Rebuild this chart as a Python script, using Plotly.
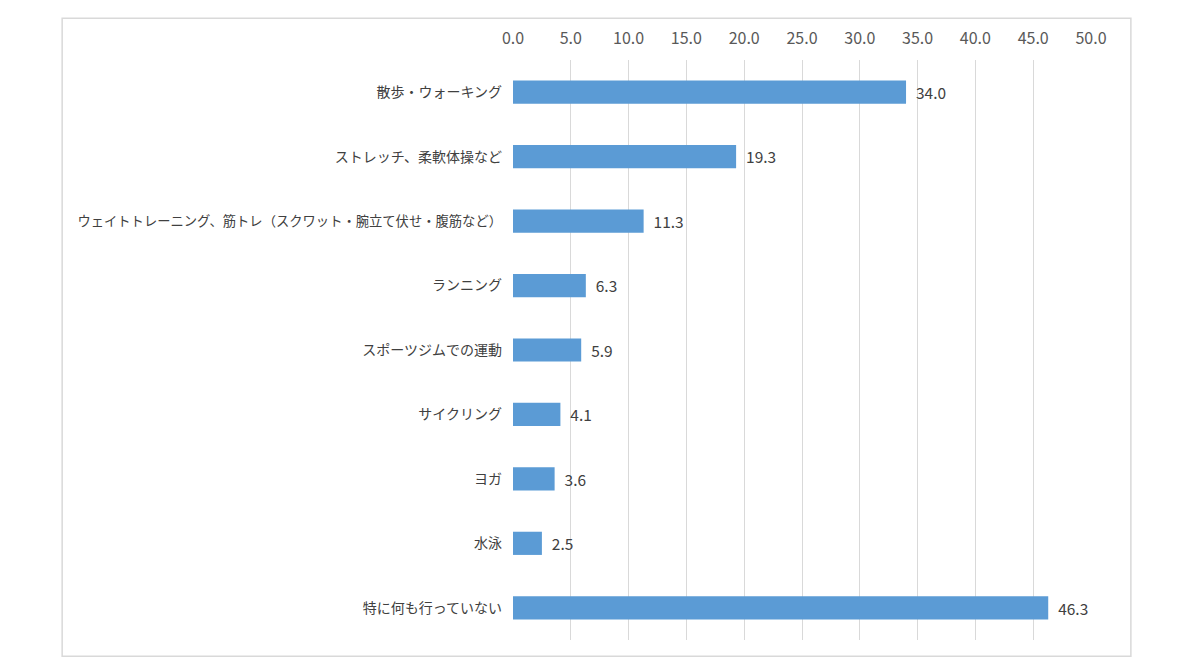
import plotly.graph_objects as go

# -------------------- Data --------------------
categories = [
    "散歩・ウォーキング",
    "ストレッチ、柔軟体操など",
    "ウェイトトレーニング、筋トレ（スクワット・腕立て伏せ・腹筋など）",
    "ランニング",
    "スポーツジムでの運動",
    "サイクリング",
    "ヨガ",
    "水泳",
    "特に何も行っていない",
]
values = [34.0, 19.3, 11.3, 6.3, 5.9, 4.1, 3.6, 2.5, 46.3]
tick_vals = [0, 5, 10, 15, 20, 25, 30, 35, 40, 45, 50]

FONT = "Noto Sans CJK JP, Meiryo, sans-serif"

# the long label is squeezed a bit so it stays inside the frame
cat_text = [c if len(c) < 20 else f"<span style='font-size:13.3px'>{c}</span>" for c in categories]

fig = go.Figure(go.Bar(
    x=values, y=categories, orientation="h",
    marker=dict(color="#5b9bd5", line=dict(width=0)),
    text=["\u00a0\u00a0" + f"{v:.1f}" for v in values],
    textposition="outside",
    textfont=dict(size=16, color="#404040", family=FONT),
    cliponaxis=False,
))

# page body adds an 8px margin, so the figure is 8px smaller than the window
fig.update_layout(
    width=1192, height=664,
    paper_bgcolor="white", plot_bgcolor="white",
    margin=dict(l=505, r=109, t=52, b=32),
    bargap=0.64,
    showlegend=False,
    font=dict(family=FONT, color="#595959"),
    xaxis=dict(
        side="top", range=[0, 50], tickvals=tick_vals,
        ticktext=[f"{v:.1f}" for v in tick_vals],
        tickfont=dict(size=16, color="#595959"),
        showgrid=True, gridcolor="#d9d9d9", gridwidth=1,
        zeroline=False, showline=False, ticks="", ticklabelstandoff=12,
    ),
    yaxis=dict(
        autorange="reversed",
        tickvals=categories, ticktext=cat_text,
        tickfont=dict(size=14, color="#404040"),
        showgrid=False, zeroline=False, showline=False,
        ticks="", ticklabelstandoff=10,
    ),
    shapes=[dict(
        type="rect", xref="paper", yref="paper",
        x0=-0.780, x1=1.069, y0=-0.028, y1=1.072,
        line=dict(color="#d9d9d9", width=1.5), layer="below",
    )],
)

fig.write_html("out.html")
